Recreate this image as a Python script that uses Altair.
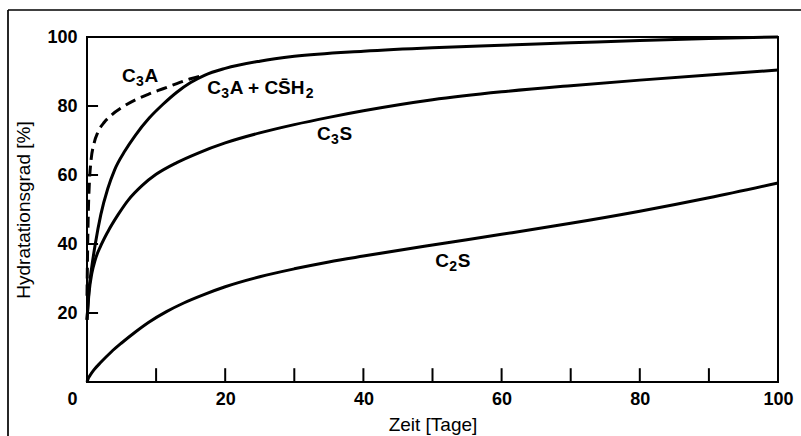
import altair as alt
import pandas as pd

# ---- data ----
c2s_x = [0, 0.2, 0.5, 1, 2, 3.5, 5, 7, 9, 11.5, 14, 17, 20, 25, 30, 35, 40, 50, 60, 70, 80, 90, 100]
c2s_y = [0, 1.1, 2.1, 3.5, 5.7, 8.7, 11.3, 14.5, 17.4, 20.4, 22.9, 25.4, 27.6, 30.5, 32.8, 34.8, 36.5,
         39.7, 42.8, 46.0, 49.5, 53.4, 57.7]

c3s_x = [0, 0.3, 0.7, 1.2, 2, 3, 4.5, 6, 8, 10, 13, 16, 20, 25, 30, 35, 40, 50, 60, 70, 80, 90, 100]
c3s_y = [18, 26, 31.5, 35.5, 39.5, 43.5, 48.5, 52.8, 57, 60.2, 63.6, 66.3, 69.3, 72.2, 74.6, 76.7,
         78.6, 81.8, 84.1, 85.9, 87.5, 89, 90.4]

c3ag_x = [0, 0.3, 0.7, 1.2, 2, 3, 4, 5.5, 7, 9, 11, 13, 15, 17, 20, 25, 30, 40, 50, 60, 70, 80, 90, 100]
c3ag_y = [18, 27, 33.5, 40, 48.5, 56, 61.5, 67, 71.5, 76.5, 80.5, 84, 86.8, 88.9, 90.9, 93.0, 94.4,
          95.9, 96.9, 97.6, 98.3, 99.0, 99.6, 100]

c3a_x = [0, 0.1, 0.2, 0.35, 0.6, 1, 1.6, 2.5, 3.5, 5, 7, 9, 11, 13, 15, 17]
c3a_y = [25, 40, 50, 58, 64.5, 69, 72.5, 75.3, 77.3, 79.5, 81.8, 83.5, 85, 86.5, 87.9, 88.9]

# curve labels: anchor (left edge, baseline) in data units, then text pieces
label_x = [5.07, 17.4, 33.3, 50.4]
label_y = [87.0, 83.5, 70.1, 33.3]
label_parts = [
    ["C", "3", "A"],
    ["C", "3", "A + CS\u0304H", "2"],
    ["C", "3", "S"],
    ["C", "2", "S"],
]
# (dx, dy, fontSize) for each piece
label_layout = [
    [(0, 0, 19), (14, 4, 14), (22.5, 0, 19)],
    [(0, 0, 19), (14, 4, 14), (22.5, 0, 19), (98.5, 4, 14)],
    [(0, 0, 19), (14, 4, 14), (22.5, 0, 19)],
    [(0, 0, 19), (14, 4, 14), (22.5, 0, 19)],
]

x_tick_values = [10, 20, 30, 40, 50, 60, 70, 80, 90]
y_tick_values = [20, 40, 60, 80]
x_label_values = [0, 20, 40, 60, 80, 100]
y_label_values = [20, 40, 60, 80, 100]

x_title = "Zeit [Tage]"
y_title = "Hydratationsgrad [%]"

FONT = "Liberation Sans"

rows = []
for name, xs, ys in [("C2S", c2s_x, c2s_y), ("C3S", c3s_x, c3s_y), ("C3A+CSH2", c3ag_x, c3ag_y)]:
    for i, (a, b) in enumerate(zip(xs, ys)):
        rows.append({"series": name, "x": a, "y": b, "i": i})
solid_df = pd.DataFrame(rows)
dash_df = pd.DataFrame({"x": c3a_x, "y": c3a_y, "i": list(range(len(c3a_x)))})
xt_df = pd.DataFrame({"x": x_tick_values, "y0": [0] * len(x_tick_values), "y1": [4] * len(x_tick_values)})
yt_df = pd.DataFrame({"y": y_tick_values, "x0": [0] * len(y_tick_values), "x1": [1.6] * len(y_tick_values)})

xscale = alt.Scale(domain=[0, 100], nice=False, zero=False)
yscale = alt.Scale(domain=[0, 100], nice=False, zero=False)

xaxis = alt.Axis(
    values=x_label_values, ticks=False, domain=False, grid=False,
    labelFont=FONT, labelFontSize=18, labelFontWeight="bold", labelColor="black",
    labelPadding=8, labelFlush=False,
    labelOffset={"condition": {"test": "datum.value === 0", "value": -15}, "value": 0},
    title=x_title, titleFont=FONT, titleFontSize=19, titleFontWeight="normal",
    titleColor="black", titleX=345.5, titleY=42, titleBaseline="middle", titleAlign="center",
)
yaxis = alt.Axis(
    values=y_label_values, ticks=False, domain=False, grid=False,
    labelFont=FONT, labelFontSize=18, labelFontWeight="bold", labelColor="black",
    labelPadding=10, labelFlush=False, labelBaseline="middle",
    title=y_title, titleFont=FONT, titleFontSize=19, titleFontWeight="normal",
    titleColor="black", titleAngle=-90, titleX=-64, titleY=172.5,
    titleBaseline="middle", titleAlign="center",
)

solid = alt.Chart(solid_df).mark_line(color="black", strokeWidth=3, interpolate="monotone").encode(
    x=alt.X("x:Q", scale=xscale, axis=xaxis),
    y=alt.Y("y:Q", scale=yscale, axis=yaxis),
    detail="series:N",
    order="i:Q",
)

dashed = alt.Chart(dash_df).mark_line(color="black", strokeWidth=3, strokeDash=[11, 6],
                                      interpolate="monotone").encode(
    x=alt.X("x:Q", scale=xscale),
    y=alt.Y("y:Q", scale=yscale),
    order="i:Q",
)

xticks = alt.Chart(xt_df).mark_rule(color="black", strokeWidth=2).encode(
    x=alt.X("x:Q", scale=xscale), y=alt.Y("y0:Q", scale=yscale), y2="y1:Q"
)
yticks = alt.Chart(yt_df).mark_rule(color="black", strokeWidth=2).encode(
    y=alt.Y("y:Q", scale=yscale), x=alt.X("x0:Q", scale=xscale), x2="x1:Q"
)

label_layers = []
for lx, ly, parts, layout in zip(label_x, label_y, label_parts, label_layout):
    for txt, (dx, dy, fs) in zip(parts, layout):
        d = pd.DataFrame({"x": [lx], "y": [ly], "t": [txt]})
        label_layers.append(
            alt.Chart(d).mark_text(font=FONT, fontSize=fs, fontWeight="bold", color="black",
                                   align="left", baseline="alphabetic", dx=dx, dy=dy).encode(
                x=alt.X("x:Q", scale=xscale), y=alt.Y("y:Q", scale=yscale), text="t:N"
            )
        )

one = alt.Data(values=[{"a": 1}])
frame_top = alt.Chart(one).mark_rule(color="black", strokeWidth=1.7).encode(
    x=alt.value(-79), x2=alt.value(720), y=alt.value(-27)
)
frame_left = alt.Chart(one).mark_rule(color="black", strokeWidth=1.7).encode(
    x=alt.value(-79), y=alt.value(-27), y2=alt.value(410)
)

chart = alt.layer(frame_top, frame_left, xticks, yticks, solid, dashed, *label_layers).properties(
    width=691, height=345,
    autosize=alt.AutoSizeParams(type="none"),
    padding={"left": 87, "top": 37, "right": 23, "bottom": 54},
    background="white",
).configure_view(stroke="black", strokeWidth=2)

chart.save("out.html", embed_options={"renderer": "svg", "actions": False})
